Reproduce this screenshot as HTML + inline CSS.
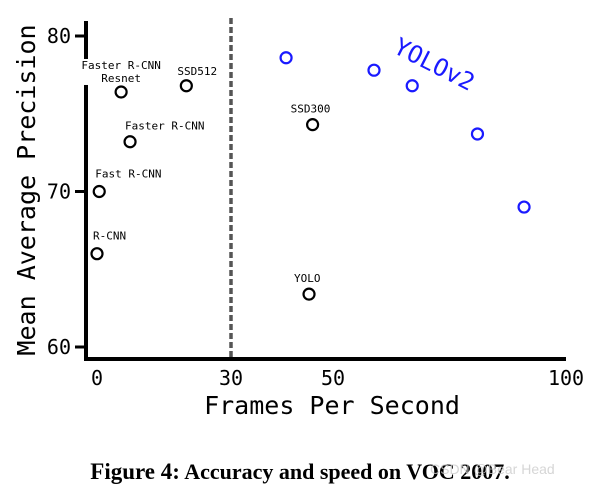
<!DOCTYPE html>
<html><head><meta charset="utf-8"><style>
body{margin:0;background:#fff;width:601px;height:487px;overflow:hidden}
svg text{font-family:"DejaVu Sans Mono","Liberation Mono",monospace}
</style></head><body>
<svg id="chart" width="601" height="487" xmlns="http://www.w3.org/2000/svg">
<g id="axes"></g><g id="marks"></g>
<text x="300" y="479" text-anchor="middle" style="font-family:'Liberation Serif',serif;font-weight:bold;font-size:22px"><tspan style="font-size:23px">Figure 4:</tspan> Accuracy and speed on VOC 2007.</text>
<text x="430" y="474" style="font-family:'Liberation Sans',sans-serif;font-size:14px;fill:#ccc;opacity:0.8">CSDN @Bear Head</text>
</svg>
<script>
const xTicks=[0,30,50,100];
const yTicks=[60,70,80];
const otherNames=["R-CNN","Fast R-CNN","Faster R-CNN","Faster R-CNN Resnet","SSD512","SSD300","YOLO"];
const otherFps=[0,0.5,7.4,5.4,20,46,45.3];
const otherMap=[66,70,73.2,76.4,76.8,74.3,63.4];
const yoloFps=[40.8,58.8,67,81,91];
const yoloMap=[78.6,77.8,76.8,73.7,69];
const xPix=[97,231,333,566];
function xs(v){for(let i=0;i<xTicks.length-1;i++){if(v<=xTicks[i+1]||i===xTicks.length-2){return xPix[i]+(v-xTicks[i])/(xTicks[i+1]-xTicks[i])*(xPix[i+1]-xPix[i]);}}}
function ys(v){return 347-(v-60)*15.55;}
const NS="http://www.w3.org/2000/svg";
const axes=document.getElementById('axes'),marks=document.getElementById('marks');
function mk(p,tag,a){const e=document.createElementNS(NS,tag);for(const k in a)e.setAttribute(k,a[k]);p.appendChild(e);return e;}
let e;
e=mk(axes,'line',{x1:86,y1:21,x2:86,y2:360,stroke:'#000','stroke-width':4});


e=mk(axes,'line',{x1:84,y1:359,x2:566,y2:359,stroke:'#000','stroke-width':4});


e=mk(axes,'line',{x1:xs(30),y1:18,x2:xs(30),y2:357,stroke:'#555','stroke-width':3.5,'stroke-dasharray':'6,3'});


yTicks.forEach(v=>{
 e=mk(axes,'line',{x1:75,y1:ys(v),x2:86,y2:ys(v),stroke:'#000','stroke-width':3});
 
 
 e=mk(axes,'text',{x:71,y:ys(v)+7,'text-anchor':'end','font-size':20});
 e.textContent=v;
 
 
});
xTicks.forEach(v=>{
 e=mk(axes,'text',{x:xs(v),y:385,'text-anchor':'middle','font-size':20});
 e.textContent=v;
 
 
});
e=mk(axes,'text',{x:332,y:414,'text-anchor':'middle','font-size':25});
e.textContent='Frames Per Second';


e=mk(axes,'text',{x:0,y:0,'text-anchor':'middle','font-size':25,transform:'translate(35,190) rotate(-90)'});
e.textContent='Mean Average Precision';


const labelOff={"R-CNN":[-4,-14,'start'],"Fast R-CNN":[-4,-14,'start'],"Faster R-CNN":[-5,-12,'start'],"SSD512":[-9,-11,'start'],"SSD300":[-22,-12,'start'],"YOLO":[-15,-12,'start']};
otherNames.forEach((n,i)=>{
 const cx=xs(otherFps[i]),cy=ys(otherMap[i]);
 e=mk(marks,'circle',{cx:cx,cy:cy,r:5.5,fill:'none',stroke:'#000','stroke-width':2.2});
 
 
 if(n==="Faster R-CNN Resnet"){
  e=mk(marks,'rect',{x:cx-41,y:cy-33,width:82,height:26,fill:'#fff'});
  
  
  e=mk(marks,'text',{x:cx,y:cy-23,'text-anchor':'middle','font-size':11});
  e.textContent='Faster R-CNN';
  
  
  e=mk(marks,'text',{x:cx,y:cy-10,'text-anchor':'middle','font-size':11});
  e.textContent='Resnet';
  
  
 } else {
  const o=labelOff[n];
  e=mk(marks,'text',{x:cx+o[0],y:cy+o[1],'text-anchor':o[2],'font-size':11});
  e.textContent=n;
  
  
 }
});
yoloFps.forEach((f,i)=>{
 e=mk(marks,'circle',{cx:xs(f),cy:ys(yoloMap[i]),r:5.5,fill:'none',stroke:'#1a1aff','stroke-width':2.2});
 
 
});
e=mk(marks,'text',{x:0,y:0,'font-size':24,fill:'#1a1aff',transform:'translate(392,52) rotate(27)'});
e.textContent='YOLOv2';


</script>
</body></html>
